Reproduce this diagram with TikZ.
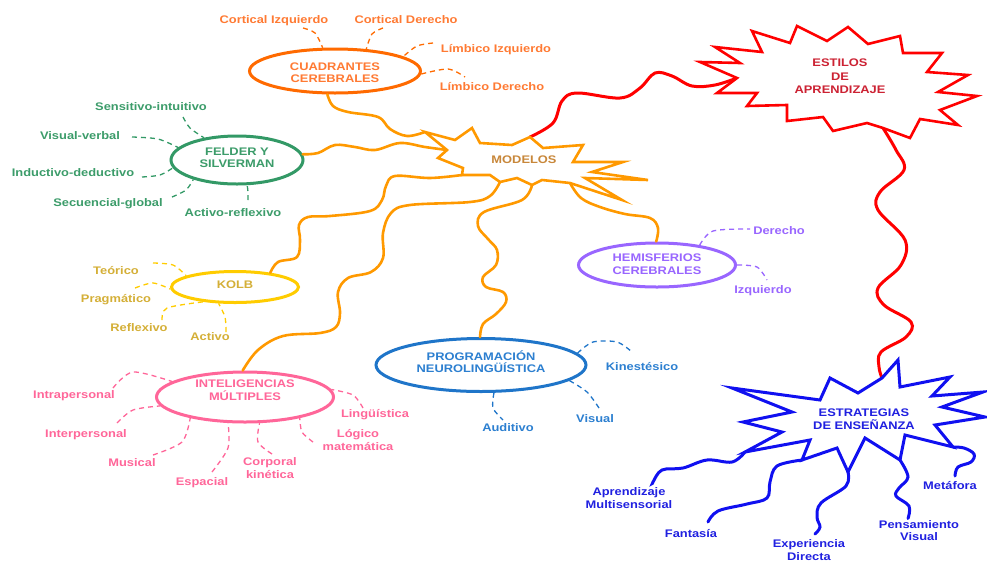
\documentclass[tikz,border=0pt]{standalone}
\usepackage{fontspec}
\setmainfont{Liberation Sans}[FakeStretch=1.17]
\usetikzlibrary{shapes.geometric,calc}
\definecolor{cuadL}{HTML}{FF6A00}
\definecolor{cuadT}{HTML}{FF7A33}
\definecolor{feldL}{HTML}{339966}
\definecolor{feldT}{HTML}{3C9C6A}
\definecolor{modL}{HTML}{FF9900}
\definecolor{modT}{HTML}{C8873A}
\definecolor{redL}{HTML}{FF0000}
\definecolor{redT}{HTML}{CC2233}
\definecolor{hemL}{HTML}{9966FF}
\definecolor{hemT}{HTML}{9966FF}
\definecolor{kolbL}{HTML}{FFCC00}
\definecolor{kolbT}{HTML}{D4AF37}
\definecolor{intL}{HTML}{FF6699}
\definecolor{intT}{HTML}{FF6699}
\definecolor{pnlL}{HTML}{1F75C9}
\definecolor{pnlT}{HTML}{2C7FD0}
\definecolor{bluL}{HTML}{1010F0}
\definecolor{bluT}{HTML}{2020E0}
\begin{document}
\begin{tikzpicture}[x=1pt,y=-1pt,
  lbl/.style={font=\fontsize{11}{12.5}\selectfont\bfseries, inner sep=0pt, align=center},
  one/.style={lbl, text height=8.5pt, text depth=1.5pt},
  ell/.style={ellipse, draw, line width=3pt, inner sep=0pt, fill=white},
  dsh/.style={line width=1.3pt, dash pattern=on 5pt off 4pt},
  conn/.style={line width=2.6pt, line cap=round},
  star/.style={line width=2.6pt, line join=miter, fill=white}
]
\useasboundingbox (0,0) rectangle (987,563);

% ---------- ellipses ----------
\node[ell, draw=cuadL, minimum width=171pt, minimum height=44pt] (cuad) at (335,71) {};
\node[ell, draw=feldL, minimum width=132pt, minimum height=48pt] (feld) at (237,160) {};
\node[ell, draw=hemL, minimum width=157pt, minimum height=44pt] (hemi) at (657,265) {};
\node[ell, draw=kolbL, minimum width=127pt, minimum height=31pt] (kolb) at (235,287) {};
\node[ell, draw=intL, minimum width=177pt, minimum height=50pt] (intel) at (245,397) {};
\node[ell, draw=pnlL, minimum width=210pt, minimum height=53pt] (pnl) at (481,365) {};

% ---------- starburst attachment points ----------
\coordinate (mC) at (425,132);
\coordinate (mF) at (447,150);
\coordinate (mR) at (530,137);
\coordinate (mK) at (462,175);
\coordinate (mI) at (500,182);
\coordinate (mP) at (532,185);
\coordinate (mH) at (570,183);
\coordinate (eL) at (737,78);
\coordinate (eD) at (883,128);
\coordinate (bR) at (882,378);
\coordinate (bA) at (745,452);
\coordinate (bF) at (802,460);
\coordinate (bE) at (848,472);
\coordinate (bP) at (900,460);
\coordinate (bM) at (953,447);

% ---------- labels ----------
\begin{scope}[every node/.append style={text=cuadT}]
\node[one] (ci) at (274,20) {Cortical Izquierdo};
\node[one] (cd) at (406,20) {Cortical Derecho};
\node[one] (li) at (496,49) {Límbico Izquierdo};
\node[one] (ld) at (492,87) {Límbico Derecho};
\end{scope}
\begin{scope}[every node/.append style={text=feldT}]
\node[one] (se) at (151,107) {Sensitivo-intuitivo};
\node[one] (vv) at (80,136) {Visual-verbal};
\node[one] (id) at (73,173) {Inductivo-deductivo};
\node[one] (sg) at (108,203) {Secuencial-global};
\node[one] (ar) at (233,213) {Activo-reflexivo};
\end{scope}
\begin{scope}[every node/.append style={text=hemT}]
\node[one] (de) at (779,231) {Derecho};
\node[one] (iz) at (763,290) {Izquierdo};
\end{scope}
\begin{scope}[every node/.append style={text=kolbT}]
\node[one] (te) at (116,271) {Teórico};
\node[one] (pr) at (116,299) {Pragmático};
\node[one] (re) at (139,328) {Reflexivo};
\node[one] (ac) at (210,337) {Activo};
\end{scope}
\begin{scope}[every node/.append style={text=intT}]
\node[one] (ip) at (74,395) {Intrapersonal};
\node[one] (inp) at (86,434) {Interpersonal};
\node[one] (mu) at (132,463) {Musical};
\node[one] (es) at (202,482) {Espacial};
\node[lbl] (co) at (270,468) {Corporal\\kinética};
\node[lbl] (lo) at (358,440) {Lógico\\matemática};
\node[one] (lg) at (375,414) {Lingüística};
\end{scope}
\begin{scope}[every node/.append style={text=pnlT}]
\node[one] (ki) at (642,367) {Kinestésico};
\node[one] (vi) at (595,419) {Visual};
\node[one] (au) at (508,428) {Auditivo};
\end{scope}
\begin{scope}[every node/.append style={text=bluT}]
\node[lbl] (am) at (629,498) {Aprendizaje\\Multisensorial};
\node[one] (fa) at (691,534) {Fantasía};
\node[lbl] (ed) at (809,550) {Experiencia\\Directa};
\node[lbl] (pv) at (919,530.5) {Pensamiento\\Visual};
\node[one] (me) at (950,486) {Metáfora};
\end{scope}

% ---------- dashed connectors ----------
\draw[dsh, cuadL] plot[smooth] coordinates {($(ci)+(29,8)$) (315,33) (cuad.118)};
\draw[dsh, cuadL] plot[smooth] coordinates {($(cd)+(-23,8)$) (372,34) (cuad.35)};
\draw[dsh, cuadL] plot[smooth] coordinates {($(li)+(-63,-6)$) (417,46) (cuad.12)};
\draw[dsh, cuadL] plot[smooth] coordinates {(cuad.-2) (448,69) ($(ld)+(-27,-10)$)};

\draw[dsh, feldL] plot[smooth] coordinates {($(se)+(32,10)$) (190,128) (feld.146)};
\draw[dsh, feldL] plot[smooth] coordinates {($(vv)+(52,1)$) (158,139) (feld.168)};
\draw[dsh, feldL] plot[smooth] coordinates {($(id)+(69,4)$) (160,175) (feld.187)};
\draw[dsh, feldL] plot[smooth] coordinates {($(sg)+(64,-6)$) (186,190) (feld.204)};
\draw[dsh, feldL] plot[smooth] coordinates {($(ar)+(15,-13)$) (248,192) (feld.-68)};

\draw[dsh, hemL] plot[smooth] coordinates {(hemi.25) (713,231) ($(de)+(-29,-2)$)};
\draw[dsh, hemL] plot[smooth] coordinates {(hemi.0) (757,267) ($(iz)+(4,-10)$)};

\draw[dsh, kolbL] plot[smooth] coordinates {($(te)+(37,-8)$) (173,265) (kolb.167)};
\draw[dsh, kolbL] plot[smooth] coordinates {($(pr)+(19,-11)$) (153,283) (kolb.182)};
\draw[dsh, kolbL] plot[smooth] coordinates {($(re)+(23,-8)$) (167,308) (kolb.205)};
\draw[dsh, kolbL] plot[smooth] coordinates {($(ac)+(16,-5)$) (225,317) (kolb.225)};

\draw[dsh, intL] plot[smooth] coordinates {($(ip)+(39,-7)$) (133,372) (intel.168)};
\draw[dsh, intL] plot[smooth] coordinates {($(inp)+(31,-11)$) (133,410) (intel.186)};
\draw[dsh, intL] plot[smooth] coordinates {($(mu)+(21,-8)$) (182,442) (intel.201)};
\draw[dsh, intL] plot[smooth] coordinates {($(es)+(10,-10)$) (228,448) (intel.237)};
\draw[dsh, intL] plot[smooth] coordinates {($(co)+(2,-14)$) (258,442) (intel.299)};
\draw[dsh, intL] plot[smooth] coordinates {($(lo)+(-45,2)$) (302,432) (intel.339)};
\draw[dsh, intL] plot[smooth] coordinates {($(lg)+(-12,-6)$) (353,395) (intel.5)};

\draw[dsh, pnlL] plot[smooth] coordinates {(pnl.7) (593,342) (617,342) ($(ki)+(-10,-15)$)};
\draw[dsh, pnlL] plot[smooth] coordinates {(pnl.-10) (587,392) ($(vi)+(4,-11)$)};
\draw[dsh, pnlL] plot[smooth] coordinates {(pnl.-65.5) (493,408) ($(au)+(-5,-8)$)};

% ---------- orange connectors ----------
\draw[conn, modL] plot[smooth, tension=0.6] coordinates {(cuad.252) (333,106) (348,112) (378,117) (390,129) (407,136) (mC)};
\draw[conn, modL] plot[smooth, tension=0.6] coordinates {(feld.5) (318,153) (335,145) (355,147) (375,150) (400,143) (425,147) (mF)};
\draw[conn, modL] plot[smooth, tension=0.6] coordinates {(mK) (430,178) (395,176) (386,186) (382,200) (370,211) (330,216) (308,217) (299,225) (300,240) (297,257) (278,262) (kolb.22)};
\draw[conn, modL] plot[smooth, tension=0.6] coordinates {(mI) (490,196) (470,202) (410,205) (391,213) (383,233) (383,258) (371,272) (348,278) (338,292) (340,313) (336,327) (320,333) (283,336) (258,350) (intel.95)};
\draw[conn, modL] plot[smooth, tension=0.6] coordinates {(mP) (522,200) (484,212) (478,226) (488,239) (497,250) (496,265) (483,277) (486,287) (503,292) (506,302) (496,314) (483,324) (pnl.92)};
\draw[conn, modL] plot[smooth, tension=0.6] coordinates {(mH) (581,198) (600,207) (625,214) (650,218) (658,228) (hemi.92)};

% ---------- red connectors ----------
\draw[conn, redL, line width=3pt] plot[smooth, tension=0.6] coordinates {(mR) (553,123) (562,101) (577,93) (620,98) (640,88) (655,73) (672,76) (692,86) (715,85) (eL)};
\draw[conn, redL, line width=3pt] plot[smooth, tension=0.6] coordinates {(eD) (896,150) (904,170) (880,192) (878,210) (905,240) (901,265) (878,288) (884,305) (911,322) (906,337) (881,352) (879,367) (bR)};

% ---------- blue connectors ----------
\draw[conn, bluL, line width=3pt] plot[smooth, tension=0.6] coordinates {(bA) (732,462) (707,460) (683,468) (662,470) (653,482) ($(am)+(24,-15)$)};
\draw[conn, bluL, line width=3pt] plot[smooth, tension=0.6] coordinates {(bF) (777,466) (770,482) (767,498) (747,504) (718,511) ($(fa)+(17,-12)$)};
\draw[conn, bluL, line width=3pt] plot[smooth, tension=0.6] coordinates {(bE) (846,486) (821,503) (817,517) (820,527) ($(ed)+(6,-16)$)};
\draw[conn, bluL, line width=3pt] plot[smooth, tension=0.6] coordinates {(bP) (908,477) (899,488) (896,496) (909,506) ($(pv)+(-11,-12)$)};
\draw[conn, bluL, line width=3pt] plot[smooth, tension=0.6] coordinates {(bM) (964,448) (974,454) (971,462) (958,467) ($(me)+(5,-10)$)};

% ---------- starbursts ----------
\draw[star, draw=modL] (mC) -- (455,140) -- (472,128) -- (480,143) -- (512,145) -- (mR) -- (543,148) -- (583,145) -- (573,162) -- (623,162) -- (592,172) -- (648,180) -- (585,178) -- (622,200) -- (mH) -- (542,180) -- (mP) -- (517,178) -- (mI) -- (490,175) -- (mK) -- (463,168) -- (438,158) -- (mF) -- cycle;

\draw[star, draw=redL] (700,62) -- (740,63) -- (715,47) -- (762,52) -- (752,31) -- (790,43) -- (797,26) -- (827,41) -- (848,27) -- (868,44) -- (900,36) -- (903,53) -- (942,53) -- (927,72) -- (968,75) -- (938,92) -- (977,96) -- (940,110) -- (958,125) -- (920,119) -- (910,138) -- (eD) -- (867,123) -- (833,131) -- (823,117) -- (787,121) -- (787,105) -- (747,106) -- (757,93) -- (717,93) -- (eL) -- cycle;

\draw[star, draw=bluL, line width=3pt] (732,388) -- (820,400) -- (830,378) -- (858,393) -- (bR) -- (898,360) -- (900,387) -- (950,377) -- (932,396) -- (983,392) -- (942,407) -- (985,417) -- (935,425) -- (bM) -- (905,435) -- (bP) -- (865,438) -- (bE) -- (837,448) -- (bF) -- (810,440) -- (bA) -- (782,432) -- (743,422) -- (792,412) -- cycle;

% ---------- central texts ----------
\node[lbl, text=cuadT] (cuadt) at (335,72.5) {CUADRANTES\\CEREBRALES};
\node[lbl, text=feldT] (feldt) at (237,158) {FELDER Y\\SILVERMAN};
\node[lbl, text=hemT] (hemit) at (657,264) {HEMISFERIOS\\CEREBRALES};
\node[one, text=kolbT] (kolbt) at (235,285) {KOLB};
\node[lbl, text=intT] (intelt) at (245,390) {INTELIGENCIAS\\MÚLTIPLES};
\node[lbl, text=pnlT] (pnlt) at (481,361.5) {PROGRAMACIÓN\\NEUROLINGÜÍSTICA};
\node[one, text=modT] (modt) at (524,160) {MODELOS};
\node[lbl, text=redT, font=\fontsize{11}{13.5}\selectfont\bfseries] (estt) at (840,76.5) {ESTILOS\\DE\\APRENDIZAJE};
\node[lbl, text=bluT] (estrt) at (864,419) {ESTRATEGIAS\\DE ENSEÑANZA};
\end{tikzpicture}
\end{document}
